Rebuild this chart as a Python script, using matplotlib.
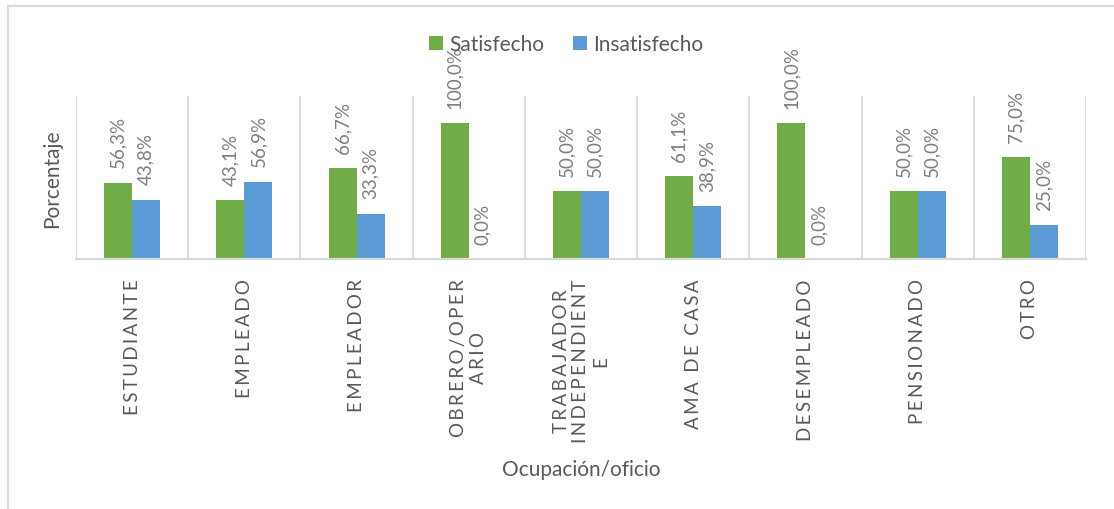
import matplotlib.pyplot as plt
import matplotlib.lines as mlines
import numpy as np

plt.rcParams["font.family"] = ["Lato", "DejaVu Sans"]

CATEGORIES = [
    "ESTUDIANTE", "EMPLEADO", "EMPLEADOR", "OBRERO/OPER\nARIO",
    "TRABAJADOR\nINDEPENDIENT\nE", "AMA DE CASA", "DESEMPLEADO",
    "PENSIONADO", "OTRO",
]
SATISFECHO   = [56.3, 43.1, 66.7, 100.0, 50.0, 61.1, 100.0, 50.0, 75.0]
INSATISFECHO = [43.8, 56.9, 33.3, 0.0, 50.0, 38.9, 0.0, 50.0, 25.0]

GREEN = "#70AD47"
BLUE  = "#5B9BD5"
GRID  = "#D9D9D9"
TEXT  = "#595959"
LABEL = "#7F7F7F"


def spaced(label):
    # Excel-style letter spacing on the category labels
    return "\n".join("\u2009".join(line) for line in label.split("\n"))


fig = plt.figure(figsize=(11.14, 5.10), dpi=100)
ax = fig.add_axes([76 / 1114, 250 / 510, 1010 / 1114, 163 / 510])

x = np.arange(len(CATEGORIES))
w = 0.25
b1 = ax.bar(x - w / 2, np.array(SATISFECHO) / 100, w, color=GREEN, label="Satisfecho")
b2 = ax.bar(x + w / 2, np.array(INSATISFECHO) / 100, w, color=BLUE, label="Insatisfecho")

for bars, vals in [(b1, SATISFECHO), (b2, INSATISFECHO)]:
    for bar, v in zip(bars, vals):
        ax.annotate(
            f"{v:.1f}%".replace(".", ","),
            xy=(bar.get_x() + bar.get_width() / 2, v / 100),
            xytext=(0, 11), textcoords="offset points",
            rotation=90, ha="center", va="bottom",
            fontsize=13.5, color=LABEL,
        )

for i in range(len(CATEGORIES) + 1):
    ax.axvline(i - 0.5, color=GRID, lw=1.3, zorder=0)

ax.set_xlim(-0.5, len(CATEGORIES) - 0.5)
ax.set_ylim(0, 1.2)
ax.set_yticks([])
for s in ["top", "right", "left"]:
    ax.spines[s].set_visible(False)
ax.spines["bottom"].set_color(GRID)
ax.spines["bottom"].set_linewidth(1.6)

ax.set_xticks(x)
ax.set_xticklabels([spaced(c) for c in CATEGORIES], rotation=90, va="top",
                   ha="center", multialignment="center",
                   fontsize=13.5, color=TEXT)
ax.tick_params(axis="x", length=0, pad=14)

ax.set_xlabel("Ocupación/oficio", fontsize=15, color=TEXT, labelpad=12)
ax.set_ylabel("Porcentaje", fontsize=15, color=TEXT, labelpad=10)

fig.legend(
    handles=[b1, b2], loc="center", bbox_to_anchor=(566 / 1114, 465 / 510),
    ncol=2, frameon=False, fontsize=15, labelcolor=TEXT,
    handlelength=0.65, handleheight=0.65, handletextpad=0.3, columnspacing=1.4,
)

# chart-area border (top and left edges visible)
fig.add_artist(mlines.Line2D([8 / 1114, 1], [503 / 510, 503 / 510], color=GRID, lw=1.5))
fig.add_artist(mlines.Line2D([8 / 1114, 8 / 1114], [0, 503 / 510], color=GRID, lw=1.5))

fig.savefig("out.png", dpi=100)
